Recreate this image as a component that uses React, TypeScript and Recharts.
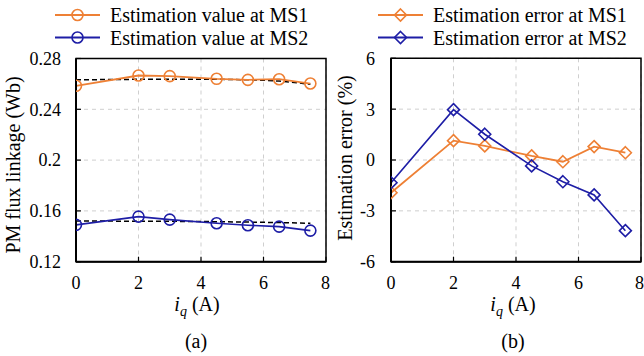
import React from 'react';
import { LineChart, Line, XAxis, YAxis, CartesianGrid, ReferenceArea } from 'recharts';

const iq = [0, 2, 3, 4.5, 5.5, 6.5, 7.5];
const ms1Value = [0.2585, 0.2666, 0.2661, 0.264, 0.2632, 0.2637, 0.2603];
const ms2Value = [0.149, 0.1555, 0.1531, 0.1503, 0.1487, 0.1476, 0.1445];
const ms1Fit = [0.2632, 0.2636, 0.2637, 0.2636, 0.2632, 0.2622, 0.2597];
const ms2Fit = [0.152, 0.1519, 0.1518, 0.1515, 0.1512, 0.1508, 0.1502];
const ms1Error = [-1.93, 1.14, 0.83, 0.24, -0.1, 0.79, 0.43];
const ms2Error = [-1.34, 2.97, 1.52, -0.35, -1.28, -2.06, -4.17];

const xTicks = [0, 2, 4, 6, 8];
const fluxTicks = [0.12, 0.16, 0.2, 0.24, 0.28];
const errTicks = [-6, -3, 0, 3, 6];

const legendA = ['Estimation value at MS1', 'Estimation value at MS2'];
const legendB = ['Estimation error at MS1', 'Estimation error at MS2'];

const ORANGE = '#EE8035';
const BLUE = '#1E1EA6';
const FONT = '"Liberation Serif", "Times New Roman", serif';

const toRows = (ys: number[]) => iq.map((x, i) => ({ x, y: ys[i] }));

const tickStyle = { fontSize: 18, fill: '#000', fontFamily: FONT };

const Diamond = (props: any) => {
  const { cx, cy, stroke, index } = props;
  if (cx == null || cy == null) return <g key={index} />;
  const h = 6;
  return (
    <path
      key={index}
      d={`M${cx},${cy - h}L${cx + h},${cy}L${cx},${cy + h}L${cx - h},${cy}Z`}
      fill="none"
      stroke={stroke}
      strokeWidth={1.6}
    />
  );
};

const LegendBox = ({ labels, colors, marker, left }: { labels: string[]; colors: string[]; marker: 'circle' | 'diamond'; left: number }) => (
  <svg width={300} height={52} style={{ position: 'absolute', left, top: 0, display: 'block', overflow: 'visible' }}>
    {labels.map((t, i) => {
      const y = 15 + i * 22.5;
      return (
        <g key={t}>
          <line x1={0} x2={45} y1={y} y2={y} stroke={colors[i]} strokeWidth={1.8} />
          {marker === 'circle' ? (
            <circle cx={22.5} cy={y} r={5.5} fill="none" stroke={colors[i]} strokeWidth={1.6} />
          ) : (
            <path d={`M22.5,${y - 6}L28.5,${y}L22.5,${y + 6}L16.5,${y}Z`} fill="none" stroke={colors[i]} strokeWidth={1.6} />
          )}
          <text x={55} y={y} dy="0.35em" fontSize={20} fontFamily={FONT} fill="#000">{t}</text>
        </g>
      );
    })}
  </svg>
);

const XTitle = ({ left }: { left: number }) => (
  <div style={{ position: 'absolute', left: left - 60, width: 120, top: 293, textAlign: 'center', fontSize: 20, fontFamily: FONT, lineHeight: '22px' }}>
    <i>i</i><sub style={{ fontStyle: 'italic', fontSize: 14, verticalAlign: '-5px', lineHeight: 0 }}>q</sub> (A)
  </div>
);

const Caption = ({ left, text }: { left: number; text: string }) => (
  <div style={{ position: 'absolute', left: left - 40, width: 80, top: 329, textAlign: 'center', fontSize: 20, fontFamily: FONT, lineHeight: '24px' }}>{text}</div>
);

const YTitle = ({ cx, cy, text }: { cx: number; cy: number; text: string }) => (
  <div style={{ position: 'absolute', left: cx - 120, top: cy - 12, width: 240, height: 24, textAlign: 'center', fontSize: 20, fontFamily: FONT, lineHeight: '24px', transform: 'rotate(-90deg)', whiteSpace: 'nowrap' }}>{text}</div>
);

export default function App() {
  return (
    <div style={{ position: 'absolute', left: 0, top: 0, width: 644, height: 356, background: '#fff', fontFamily: FONT, overflow: 'hidden' }}>
      <div style={{ position: 'absolute', left: 0, top: 0 }}>
        <LineChart width={330} height={356} margin={{ top: 58.5, right: 4, bottom: 64.3, left: 16 }}>
          <CartesianGrid stroke="#cfcfcf" strokeDasharray="4 4" horizontal vertical />
          <XAxis
            type="number" dataKey="x" domain={[0, 8]} ticks={xTicks} allowDataOverflow
            height={30} tick={tickStyle} tickSize={-5} tickMargin={20}
            axisLine={{ stroke: '#000', strokeWidth: 2 }} tickLine={{ stroke: '#000', strokeWidth: 1.2 }}
          />
          <YAxis
            type="number" dataKey="y" domain={[0.12, 0.28]} ticks={fluxTicks} allowDataOverflow
            width={60} tick={tickStyle} tickSize={-5} tickMargin={20}
            axisLine={{ stroke: '#000', strokeWidth: 2 }} tickLine={{ stroke: '#000', strokeWidth: 1.2 }}
          />
          <ReferenceArea x1={0} x2={8} y1={0.12} y2={0.28} fill="none" stroke="#000" strokeWidth={1.5} ifOverflow="visible" />
          <Line data={toRows(ms1Fit)} dataKey="y" type="monotone" stroke="#000" strokeWidth={1.5} strokeDasharray="5 3" dot={false} isAnimationActive={false} legendType="none" />
          <Line data={toRows(ms2Fit)} dataKey="y" type="monotone" stroke="#000" strokeWidth={1.5} strokeDasharray="5 3" dot={false} isAnimationActive={false} legendType="none" />
          <Line data={toRows(ms1Value)} dataKey="y" name={legendA[0]} stroke={ORANGE} strokeWidth={1.8} dot={{ r: 5.5, fill: 'none', stroke: ORANGE, strokeWidth: 1.6 }} isAnimationActive={false} />
          <Line data={toRows(ms2Value)} dataKey="y" name={legendA[1]} stroke={BLUE} strokeWidth={1.6} dot={{ r: 5.5, fill: 'none', stroke: BLUE, strokeWidth: 1.6 }} isAnimationActive={false} />
        </LineChart>
      </div>
      <div style={{ position: 'absolute', left: 330, top: 0 }}>
        <LineChart width={314} height={356} margin={{ top: 58.3, right: 3, bottom: 64.3, left: 11 }}>
          <CartesianGrid stroke="#cfcfcf" strokeDasharray="4 4" horizontal vertical />
          <XAxis
            type="number" dataKey="x" domain={[0, 8]} ticks={xTicks} allowDataOverflow
            height={30} tick={tickStyle} tickSize={-5} tickMargin={20}
            axisLine={{ stroke: '#000', strokeWidth: 2 }} tickLine={{ stroke: '#000', strokeWidth: 1.2 }}
          />
          <YAxis
            type="number" dataKey="y" domain={[-6, 6]} ticks={errTicks} allowDataOverflow
            width={50} tick={tickStyle} tickSize={-5} tickMargin={21}
            axisLine={{ stroke: '#000', strokeWidth: 2 }} tickLine={{ stroke: '#000', strokeWidth: 1.2 }}
          />
          <ReferenceArea x1={0} x2={8} y1={-6} y2={6} fill="none" stroke="#000" strokeWidth={1.5} ifOverflow="visible" />
          <Line data={toRows(ms1Error)} dataKey="y" name={legendB[0]} stroke={ORANGE} strokeWidth={1.8} dot={<Diamond stroke={ORANGE} />} isAnimationActive={false} />
          <Line data={toRows(ms2Error)} dataKey="y" name={legendB[1]} stroke={BLUE} strokeWidth={1.6} dot={<Diamond stroke={BLUE} />} isAnimationActive={false} />
        </LineChart>
      </div>
      <LegendBox labels={legendA} colors={[ORANGE, BLUE]} marker="circle" left={55} />
      <LegendBox labels={legendB} colors={[ORANGE, BLUE]} marker="diamond" left={378} />
      <YTitle cx={13} cy={165} text="PM flux linkage (Wb)" />
      <YTitle cx={345} cy={158} text="Estimation error (%)" />
      <XTitle left={197} />
      <XTitle left={513} />
      <Caption left={196} text="(a)" />
      <Caption left={513} text="(b)" />
    </div>
  );
}
